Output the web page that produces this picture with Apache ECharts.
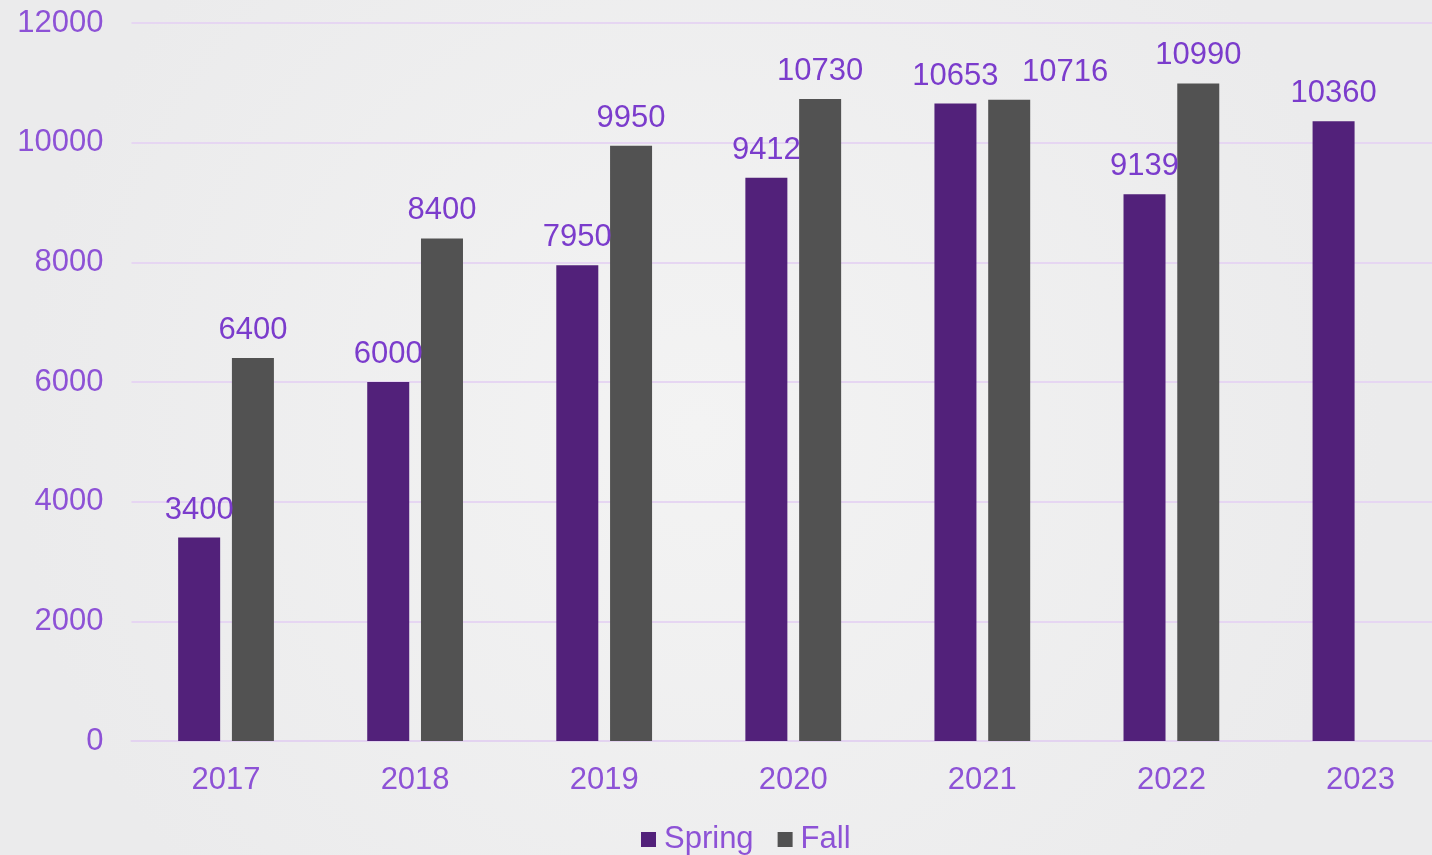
<!DOCTYPE html>
<html>
<head>
<meta charset="utf-8">
<script src="https://cdn.jsdelivr.net/npm/echarts@6/dist/echarts.min.js"></script>
<style>
  html, body { margin: 0; padding: 0; overflow: hidden; background: #eeeeee; }
  #chart { width: 1455px; height: 855px; }
</style>
</head>
<body>
<div id="chart"></div>
<script>
var years = ['2017', '2018', '2019', '2020', '2021', '2022', '2023'];
var spring = [3400, 6000, 7950, 9412, 10653, 9139, 10360];
var fall = [6400, 8400, 9950, 10730, 10716, 10990, null];

var axisColor = '#8d52d6';
var labelColor = '#7b3ccc';

// the 2021 fall label sits to the right of its bar in the original
var fallData = fall.map(function (v, i) {
    if (years[i] === '2021') {
        return { value: v, label: { offset: [56, 0] } };
    }
    return v;
});

var chart = echarts.init(document.getElementById('chart'));
var option = {
    backgroundColor: {
        type: 'radial', x: 0.48, y: 0.5, r: 0.8,
        colorStops: [
            { offset: 0, color: '#f3f3f3' },
            { offset: 1, color: '#ebebec' }
        ]
    },
    textStyle: { fontFamily: 'Liberation Sans, Arial, sans-serif' },
    grid: { left: 131.5, right: 0, top: 23, bottom: 114, containLabel: false },
    legend: {
        bottom: -5,
        left: 636,
        itemWidth: 15,
        itemHeight: 15,
        itemGap: 24,
        icon: 'rect',
        textStyle: { color: axisColor, fontSize: 31, padding: [0, 0, 0, 3] },
        data: ['Spring', 'Fall']
    },
    xAxis: {
        type: 'category',
        data: years,
        axisLine: { show: true, lineStyle: { color: '#e3d3f0', width: 2 } },
        axisTick: { show: false },
        axisLabel: { color: axisColor, fontSize: 31, margin: 24 }
    },
    yAxis: {
        type: 'value',
        min: 0,
        max: 12000,
        interval: 2000,
        axisLine: { show: false },
        axisTick: { show: false },
        axisLabel: {
            color: axisColor, fontSize: 31, margin: 28, padding: [4, 0, 0, 0],
            formatter: function (v) { return String(v); }
        },
        splitLine: { lineStyle: { color: '#e6d6f2', width: 2 } }
    },
    series: [
        {
            name: 'Spring',
            type: 'bar',
            data: spring,
            barWidth: 42,
            barGap: '28%',
            itemStyle: { color: '#52217a' },
            label: { show: true, position: 'top', distance: 12, color: labelColor, fontSize: 31 }
        },
        {
            name: 'Fall',
            type: 'bar',
            data: fallData,
            barWidth: 42,
            barGap: '28%',
            itemStyle: { color: '#525252' },
            label: { show: true, position: 'top', distance: 12, color: labelColor, fontSize: 31 }
        }
    ]
};
chart.setOption(option);
</script>
</body>
</html>
